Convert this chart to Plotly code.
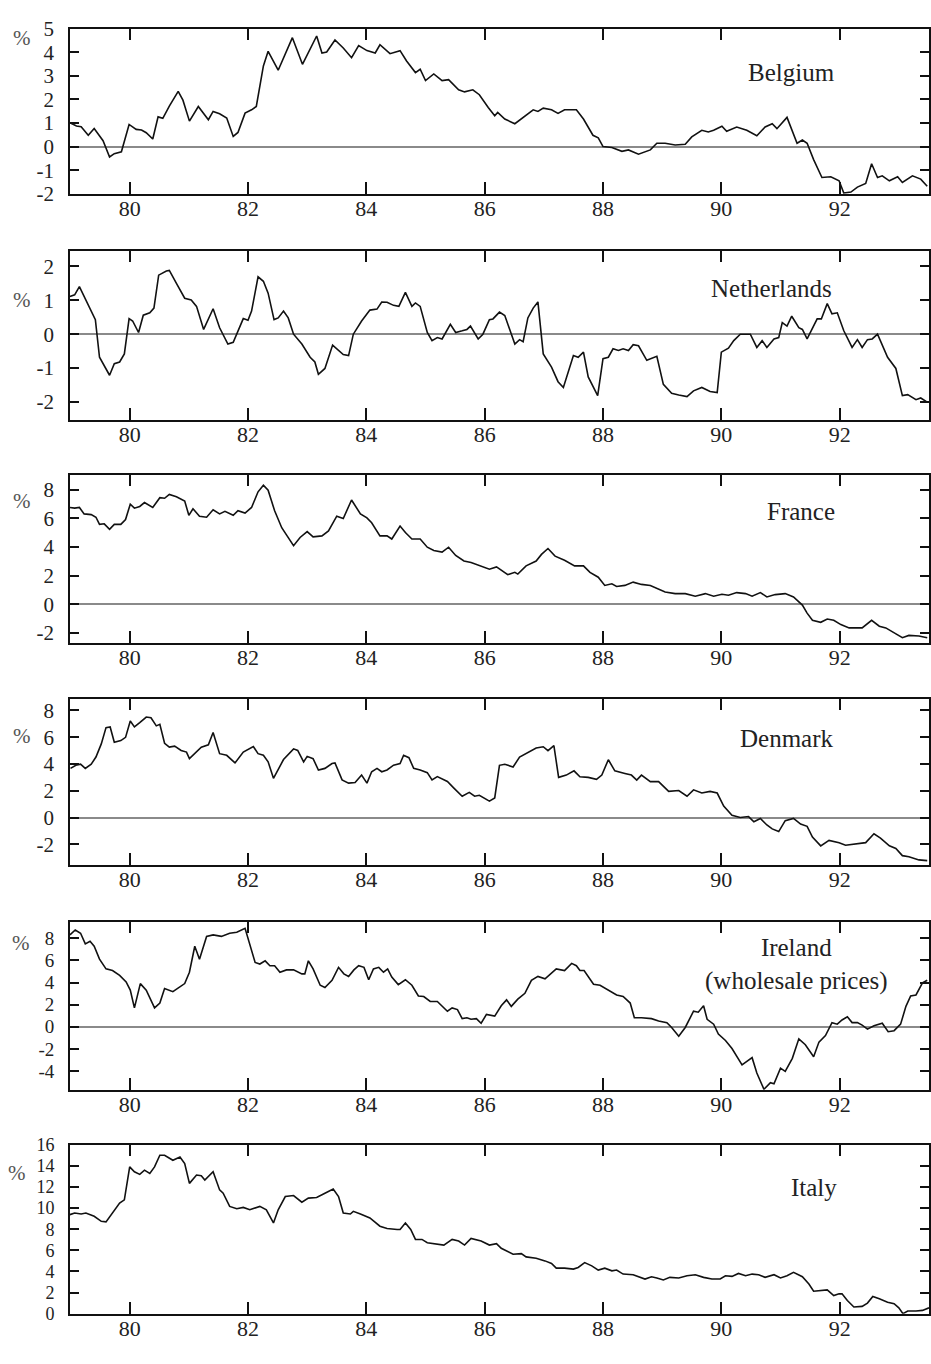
import plotly.graph_objects as go

# ---------------- data (year as 19xx decimal, value in %) ----------------
belgium_x = [79.0, 79.1, 79.18, 79.3, 79.4, 79.55, 79.66, 79.74, 79.86, 79.99, 80.11, 80.2, 80.28, 80.39, 80.48,
             80.56, 80.67, 80.82, 80.9, 81.01, 81.16, 81.33, 81.41, 81.52, 81.64, 81.75, 81.83, 81.95, 82.06,
             82.14, 82.26, 82.34, 82.51, 82.75, 82.92, 83.16, 83.25, 83.33, 83.47, 83.61, 83.75, 83.87, 84.01,
             84.15, 84.23, 84.4, 84.57, 84.68, 84.83, 84.91, 85.0, 85.14, 85.28, 85.39, 85.56, 85.66, 85.8,
             85.91, 86.06, 86.17, 86.22, 86.34, 86.51, 86.65, 86.82, 86.9, 86.99, 87.13, 87.24, 87.35, 87.55,
             87.67, 87.83, 87.92, 88.0, 88.15, 88.32, 88.43, 88.6, 88.8, 88.91, 89.05, 89.22, 89.39, 89.5,
             89.67, 89.78, 89.87, 90.01, 90.09, 90.26, 90.43, 90.6, 90.74, 90.86, 90.94, 91.11, 91.28, 91.37,
             91.45, 91.56, 91.7, 91.85, 91.99, 92.07, 92.19, 92.3, 92.44, 92.54, 92.64, 92.72, 92.84, 92.98,
             93.06, 93.23, 93.37, 93.48]
belgium_y = [1.0, 0.87, 0.84, 0.48, 0.77, 0.25, -0.44, -0.3, -0.22, 0.94, 0.73, 0.7, 0.59, 0.32, 1.26,
             1.2, 1.72, 2.34, 1.97, 1.08, 1.7, 1.14, 1.49, 1.39, 1.21, 0.43, 0.6, 1.42, 1.56,
             1.7, 3.42, 4.04, 3.24, 4.62, 3.49, 4.69, 3.97, 4.01, 4.52, 4.18, 3.77, 4.28, 4.07,
             3.97, 4.32, 3.94, 4.07, 3.63, 3.14, 3.28, 2.8, 3.08, 2.8, 2.84, 2.41, 2.32, 2.41,
             2.2, 1.66, 1.31, 1.45, 1.17, 0.97, 1.24, 1.56, 1.49, 1.63, 1.56, 1.41, 1.56, 1.56,
             1.17, 0.48, 0.37, 0.0, -0.04, -0.2, -0.14, -0.32, -0.14, 0.14, 0.14, 0.07, 0.1, 0.41,
             0.69, 0.62, 0.69, 0.86, 0.65, 0.83, 0.69, 0.46, 0.83, 0.97, 0.76, 1.24, 0.14, 0.28,
             0.14, -0.55, -1.31, -1.28, -1.45, -1.97, -1.93, -1.72, -1.56, -0.73, -1.31, -1.24, -1.45, -1.28,
             -1.52, -1.24, -1.38, -1.68]

netherlands_x = [78.99, 79.07, 79.15, 79.23, 79.32, 79.38, 79.42, 79.49, 79.66, 79.74, 79.83, 79.91, 79.99, 80.05,
                 80.15, 80.23, 80.34, 80.41, 80.49, 80.62, 80.67, 80.79, 80.93, 81.04, 81.13, 81.25, 81.41,
                 81.52, 81.66, 81.75, 81.92, 82.0, 82.06, 82.17, 82.26, 82.34, 82.44, 82.51, 82.6, 82.68,
                 82.77, 82.91, 83.05, 83.13, 83.19, 83.3, 83.43, 83.61, 83.7, 83.78, 83.92, 84.06, 84.18,
                 84.26, 84.35, 84.46, 84.55, 84.66, 84.77, 84.83, 84.91, 85.03, 85.11, 85.2, 85.28, 85.42,
                 85.51, 85.62, 85.7, 85.76, 85.89, 85.97, 86.08, 86.14, 86.25, 86.34, 86.42, 86.51, 86.59,
                 86.65, 86.73, 86.82, 86.9, 86.99, 87.13, 87.24, 87.33, 87.5, 87.58, 87.67, 87.75, 87.91,
                 88.0, 88.09, 88.17, 88.26, 88.34, 88.43, 88.51, 88.6, 88.74, 88.91, 89.02, 89.16, 89.28,
                 89.42, 89.53, 89.67, 89.81, 89.93, 90.0, 90.12, 90.21, 90.32, 90.49, 90.6, 90.69, 90.77,
                 90.89, 90.97, 91.03, 91.11, 91.19, 91.31, 91.37, 91.45, 91.62, 91.69, 91.79, 91.87, 91.96,
                 92.07, 92.21, 92.3, 92.38, 92.47, 92.55, 92.64, 92.81, 92.95, 93.06, 93.15, 93.29, 93.37,
                 93.48]
netherlands_y = [1.11, 1.16, 1.4, 1.11, 0.77, 0.53, 0.43, -0.68, -1.21, -0.87, -0.82, -0.58, 0.46, 0.39,
                 0.05, 0.56, 0.63, 0.77, 1.74, 1.86, 1.88, 1.5, 1.06, 1.01, 0.82, 0.14, 0.75,
                 0.19, -0.29, -0.24, 0.46, 0.41, 0.68, 1.69, 1.56, 1.21, 0.43, 0.48, 0.68, 0.48,
                 0.0, -0.29, -0.68, -0.82, -1.18, -1.01, -0.32, -0.6, -0.63, 0.0, 0.39, 0.71, 0.74,
                 0.95, 0.94, 0.85, 0.82, 1.23, 0.82, 0.92, 0.82, 0.05, -0.19, -0.1, -0.14, 0.29,
                 0.05, 0.1, 0.14, 0.24, -0.14, 0.0, 0.43, 0.45, 0.65, 0.55, 0.14, -0.29, -0.16,
                 -0.22, 0.48, 0.77, 0.95, -0.58, -0.97, -1.4, -1.57, -0.63, -0.68, -0.53, -1.26, -1.81,
                 -0.72, -0.68, -0.43, -0.48, -0.43, -0.48, -0.31, -0.34, -0.77, -0.65, -1.48, -1.74, -1.79,
                 -1.84, -1.67, -1.57, -1.69, -1.72, -0.53, -0.41, -0.19, 0.0, 0.0, -0.39, -0.19, -0.39,
                 -0.14, -0.1, 0.34, 0.24, 0.53, 0.19, 0.14, -0.14, 0.45, 0.45, 0.9, 0.6, 0.63,
                 0.1, -0.39, -0.16, -0.39, -0.16, -0.14, 0.0, -0.68, -1.01, -1.81, -1.78, -1.93, -1.88,
                 -2.0]

france_x = [78.99, 79.07, 79.15, 79.23, 79.35, 79.43, 79.49, 79.57, 79.66, 79.74, 79.85, 79.93, 80.01, 80.08,
            80.17, 80.25, 80.39, 80.51, 80.59, 80.67, 80.79, 80.93, 81.0, 81.07, 81.18, 81.3, 81.41, 81.52,
            81.61, 81.75, 81.83, 81.95, 82.06, 82.17, 82.26, 82.34, 82.45, 82.57, 82.65, 82.77, 82.88, 83.0,
            83.1, 83.25, 83.36, 83.5, 83.61, 83.75, 83.9, 84.01, 84.09, 84.23, 84.35, 84.43, 84.57, 84.66,
            84.77, 84.91, 85.03, 85.14, 85.28, 85.39, 85.51, 85.65, 85.77, 85.94, 86.08, 86.2, 86.39,
            86.51, 86.56, 86.7, 86.87, 86.96, 87.07, 87.19, 87.35, 87.52, 87.67, 87.78, 87.92, 88.03, 88.15,
            88.23, 88.37, 88.51, 88.65, 88.8, 88.94, 89.05, 89.22, 89.39, 89.56, 89.73, 89.87, 90.01, 90.12,
            90.26, 90.41, 90.52, 90.66, 90.77, 90.91, 91.08, 91.22, 91.37, 91.45, 91.54, 91.68, 91.79, 91.9,
            92.02, 92.16, 92.38, 92.54, 92.67, 92.78, 92.92, 93.06, 93.17, 93.34, 93.48]
france_y = [6.75, 6.7, 6.75, 6.3, 6.25, 6.07, 5.57, 5.61, 5.23, 5.57, 5.57, 5.91, 6.98, 6.7,
            6.82, 7.09, 6.75, 7.43, 7.39, 7.66, 7.5, 7.2, 6.2, 6.66, 6.14, 6.07, 6.59, 6.3,
            6.48, 6.2, 6.52, 6.36, 6.75, 7.84, 8.3, 7.95, 6.52, 5.34, 4.84, 4.09, 4.66, 5.07,
            4.7, 4.77, 5.11, 6.14, 5.98, 7.27, 6.3, 6.02, 5.68, 4.77, 4.77, 4.55, 5.45, 5.0,
            4.55, 4.55, 3.98, 3.75, 3.64, 3.98, 3.41, 3.02, 2.91, 2.68, 2.45, 2.61, 2.07,
            2.23, 2.11, 2.68, 3.02, 3.48, 3.89, 3.36, 3.07, 2.68, 2.68, 2.23, 1.89, 1.32, 1.43,
            1.25, 1.32, 1.55, 1.39, 1.32, 1.09, 0.86, 0.75, 0.75, 0.57, 0.75, 0.57, 0.7, 0.64,
            0.82, 0.75, 0.57, 0.82, 0.52, 0.68, 0.75, 0.52, -0.05, -0.61, -1.11, -1.25, -1.02, -1.11,
            -1.41, -1.64, -1.64, -1.11, -1.52, -1.64, -1.98, -2.32, -2.16, -2.2, -2.32]

denmark_x = [79.0, 79.09, 79.17, 79.25, 79.35, 79.43, 79.52, 79.6, 79.67, 79.74, 79.85, 79.93, 80.01, 80.08,
             80.17, 80.28, 80.36, 80.45, 80.51, 80.59, 80.67, 80.76, 80.87, 80.96, 81.01, 81.13, 81.21,
             81.33, 81.41, 81.52, 81.64, 81.78, 81.92, 82.09, 82.17, 82.26, 82.34, 82.43, 82.6, 82.77,
             82.84, 82.94, 83.0, 83.1, 83.19, 83.3, 83.42, 83.47, 83.59, 83.7, 83.81, 83.92, 84.01,
             84.09, 84.18, 84.26, 84.35, 84.46, 84.57, 84.63, 84.72, 84.8, 84.91, 85.03, 85.11, 85.2,
             85.37, 85.48, 85.62, 85.74, 85.83, 85.91, 86.08, 86.17, 86.25, 86.34, 86.48, 86.59, 86.73,
             86.87, 86.99, 87.07, 87.17, 87.25, 87.38, 87.51, 87.61, 87.75, 87.89, 87.98, 88.09, 88.2,
             88.37, 88.48, 88.57, 88.65, 88.8, 88.94, 89.11, 89.28, 89.42, 89.53, 89.67, 89.81, 89.93,
             90.04, 90.18, 90.32, 90.46, 90.55, 90.66, 90.77, 90.86, 90.97, 91.08, 91.22, 91.34, 91.45,
             91.54, 91.68, 91.82, 91.99, 92.1, 92.27, 92.44, 92.58, 92.69, 92.84, 92.95, 93.06, 93.17,
             93.34, 93.48]
denmark_y = [3.67, 3.91, 3.99, 3.67, 3.99, 4.52, 5.5, 6.72, 6.77, 5.62, 5.75, 5.99, 7.21, 6.77,
             7.09, 7.51, 7.46, 6.85, 6.97, 5.55, 5.26, 5.33, 5.01, 4.89, 4.4, 4.89, 5.26,
             5.43, 6.36, 4.77, 4.65, 4.08, 4.89, 5.31, 4.77, 4.65, 4.16, 2.93, 4.33, 5.13,
             5.01, 4.16, 4.57, 4.4, 3.55, 3.67, 4.03, 4.08, 2.81, 2.57, 2.62, 3.18, 2.57,
             3.42, 3.67, 3.42, 3.55, 3.91, 4.03, 4.65, 4.47, 3.67, 3.55, 3.35, 2.81, 3.06,
             2.69, 2.2, 1.59, 1.88, 1.59, 1.66, 1.22, 1.46, 3.9, 3.98, 3.78, 4.51, 4.88,
             5.2, 5.29, 5.0, 5.37, 3.0, 3.17, 3.49, 3.05, 3.0, 2.85, 3.17, 4.32, 3.49,
             3.29, 3.17, 2.8, 3.17, 2.68, 2.68, 1.95, 2.02, 1.59, 2.07, 1.83, 1.95, 1.83,
             0.85, 0.17, 0.0, 0.07, -0.32, -0.07, -0.56, -0.85, -1.05, -0.24, -0.07, -0.49, -0.66,
             -1.46, -2.12, -1.71, -1.88, -2.07, -1.95, -1.88, -1.22, -1.54, -2.12, -2.32, -2.85, -2.93,
             -3.17, -3.22]

ireland_x = [78.99, 79.08, 79.17, 79.25, 79.33, 79.4, 79.49, 79.6, 79.71, 79.83, 79.94, 80.01, 80.08, 80.18,
             80.28, 80.42, 80.51, 80.59, 80.73, 80.85, 80.93, 81.01, 81.1, 81.18, 81.3, 81.41, 81.55, 81.69,
             81.81, 81.95, 82.03, 82.12, 82.2, 82.29, 82.37, 82.45, 82.54, 82.65, 82.77, 82.91, 82.96,
             83.02, 83.1, 83.22, 83.3, 83.42, 83.53, 83.62, 83.7, 83.79, 83.87, 83.96, 84.04, 84.12, 84.21,
             84.29, 84.36, 84.43, 84.54, 84.66, 84.77, 84.88, 84.97, 85.08, 85.2, 85.28, 85.37, 85.45,
             85.54, 85.62, 85.7, 85.77, 85.86, 85.94, 86.03, 86.17, 86.28, 86.37, 86.45, 86.56, 86.68,
             86.79, 86.9, 87.02, 87.1, 87.21, 87.35, 87.47, 87.55, 87.61, 87.68, 87.84, 87.95, 88.09,
             88.23, 88.34, 88.46, 88.53, 88.65, 88.82, 88.94, 89.08, 89.16, 89.28, 89.39, 89.53, 89.61,
             89.7, 89.76, 89.87, 89.95, 90.07, 90.18, 90.35, 90.52, 90.6, 90.72, 90.83, 90.89, 91.0,
             91.08, 91.2, 91.31, 91.42, 91.56, 91.65, 91.76, 91.87, 91.96, 92.04, 92.13, 92.21, 92.3,
             92.38, 92.47, 92.58, 92.72, 92.82, 92.92, 93.03, 93.12, 93.2, 93.29, 93.4, 93.48]
ireland_y = [8.32, 8.76, 8.47, 7.5, 7.74, 7.29, 6.12, 5.24, 5.09, 4.65, 4.06, 3.32, 1.71, 3.91,
             3.32, 1.71, 2.15, 3.47, 3.18, 3.62, 3.91, 4.94, 7.29, 6.12, 8.18, 8.32, 8.18, 8.47,
             8.56, 8.91, 7.44, 5.82, 5.68, 5.97, 5.53, 5.53, 4.94, 5.15, 5.15, 4.79, 4.79,
             5.97, 5.24, 3.76, 3.56, 4.21, 5.38, 4.79, 4.56, 5.15, 5.53, 5.38, 4.26, 5.24, 5.38,
             4.94, 5.24, 4.5, 3.82, 4.26, 3.76, 2.79, 2.74, 2.29, 2.29, 1.91, 1.41, 1.71,
             1.56, 0.74, 0.82, 0.68, 0.74, 0.32, 1.12, 0.97, 1.91, 2.44, 1.85, 2.5, 3.03,
             4.21, 4.56, 4.35, 4.74, 5.24, 5.09, 5.74, 5.53, 5.09, 5.09, 3.85, 3.76, 3.32,
             2.88, 2.74, 2.15, 0.82, 0.82, 0.74, 0.53, 0.38, -0.06, -0.85, -0.06, 1.41, 1.32,
             1.91, 0.68, 0.24, -0.65, -1.24, -1.97, -3.44, -2.79, -4.18, -5.65, -5.06, -5.15, -3.74,
             -4.03, -2.85, -1.09, -1.62, -2.71, -1.38, -0.79, 0.38, 0.24, 0.62, 0.91, 0.38, 0.38,
             0.15, -0.21, 0.09, 0.32, -0.44, -0.35, 0.24, 1.85, 2.79, 2.88, 3.97, 4.21]

italy_x = [78.99, 79.07, 79.18, 79.26, 79.4, 79.52, 79.6, 79.71, 79.83, 79.91, 80.0, 80.08, 80.17, 80.25,
           80.34, 80.42, 80.51, 80.59, 80.73, 80.85, 80.93, 81.01, 81.13, 81.21, 81.27, 81.41, 81.52, 81.58,
           81.69, 81.81, 81.92, 82.03, 82.2, 82.31, 82.43, 82.51, 82.63, 82.77, 82.91, 83.02, 83.16,
           83.3, 83.44, 83.53, 83.61, 83.73, 83.78, 83.9, 84.06, 84.23, 84.35, 84.52, 84.57, 84.66,
           84.75, 84.83, 84.94, 85.03, 85.14, 85.31, 85.45, 85.56, 85.66, 85.77, 85.94, 86.08, 86.2,
           86.28, 86.48, 86.62, 86.7, 86.87, 87.02, 87.13, 87.21, 87.35, 87.5, 87.58, 87.69, 87.81,
           87.92, 88.03, 88.15, 88.23, 88.34, 88.51, 88.71, 88.82, 88.91, 89.02, 89.13, 89.28, 89.42,
           89.56, 89.7, 89.84, 89.98, 90.07, 90.18, 90.29, 90.41, 90.52, 90.63, 90.74, 90.89, 91.0,
           91.11, 91.22, 91.37, 91.48, 91.56, 91.68, 91.79, 91.9, 91.99, 92.04, 92.13, 92.24, 92.38,
           92.47, 92.56, 92.67, 92.81, 92.92, 93.0, 93.07, 93.15, 93.29, 93.4, 93.51]
italy_y = [9.38, 9.53, 9.44, 9.53, 9.22, 8.75, 8.69, 9.53, 10.47, 10.78, 13.9, 13.44, 13.19, 13.59,
           13.28, 13.9, 15.0, 15.0, 14.53, 14.84, 14.22, 12.34, 13.13, 13.06, 12.66, 13.44, 11.72, 11.41,
           10.16, 9.94, 10.06, 9.84, 10.16, 9.84, 8.59, 9.84, 11.09, 11.19, 10.56, 10.94, 11.0,
           11.41, 11.81, 11.09, 9.53, 9.44, 9.69, 9.44, 9.06, 8.28, 8.06, 7.97, 7.97, 8.59,
           7.97, 7.03, 7.03, 6.72, 6.63, 6.5, 7.03, 6.88, 6.5, 7.13, 6.88, 6.5, 6.63,
           6.19, 5.63, 5.69, 5.38, 5.25, 5.0, 4.75, 4.31, 4.31, 4.22, 4.38, 4.84, 4.53,
           4.13, 4.31, 4.06, 4.13, 3.75, 3.69, 3.28, 3.5, 3.38, 3.19, 3.44, 3.38, 3.59,
           3.69, 3.44, 3.28, 3.28, 3.59, 3.53, 3.81, 3.59, 3.75, 3.69, 3.44, 3.69, 3.38,
           3.59, 3.91, 3.5, 2.81, 2.13, 2.19, 2.25, 1.72, 1.88, 1.88, 1.25, 0.63, 0.69,
           1.0, 1.63, 1.41, 1.09, 0.94, 0.56, 0.0, 0.25, 0.25, 0.31, 0.56]

countries = ["Belgium", "Netherlands", "France", "Denmark", "Ireland<br>(wholesale prices)", "Italy"]
series_x = [belgium_x, netherlands_x, france_x, denmark_x, ireland_x, italy_x]
series_y = [belgium_y, netherlands_y, france_y, denmark_y, ireland_y, italy_y]
y_ticks = [list(range(-2, 6)), list(range(-2, 3)), list(range(-2, 9, 2)),
           list(range(-2, 9, 2)), list(range(-4, 9, 2)), list(range(0, 17, 2))]
x_ticks = [80, 82, 84, 86, 88, 90, 92]

# ---------------- layout constants (pixels) ----------------
W, H = 931, 1364
PLOT_L, PLOT_R = 70, 930
X_RANGE = [78.99, 93.51]
panel_px = [(17, 185), (243, 415), (471, 642), (699, 868), (926, 1097), (1153, 1325)]
y_ranges = [[-2, 5], [-2.52, 2.46], [-2.67, 9.03], [-3.53, 8.88], [-5.69, 9.51], [0, 16]]
ytick_size = [21, 21, 21, 21, 19, 18]
pct_pos = [(22, 26), (22, 293), (22, 498), (22, 737), (21, 948), (17, 1182)]
label_pos = [(792, 62), (772, 281), (802, 508), (788, 740), (797, 970), (815, 1197)]

SERIF = "Liberation Serif"

def py(p):
    return 1 - p / H

def px(p):
    return p / W

fig = go.Figure()
annotations = []
layout = dict(
    width=W, height=H, margin=dict(l=0, r=0, t=0, b=0),
    paper_bgcolor="white", plot_bgcolor="white", showlegend=False,
)

for i in range(6):
    n = "" if i == 0 else str(i + 1)
    fig.add_trace(go.Scatter(
        x=series_x[i], y=series_y[i], mode="lines",
        line=dict(color="#111111", width=1.6),
        xaxis="x" + n, yaxis="y" + n, hoverinfo="skip"))
    top, bot = panel_px[i]
    layout["xaxis" + n] = dict(
        domain=[px(PLOT_L), px(PLOT_R)], range=X_RANGE, anchor="y" + n,
        tickvals=x_ticks, ticktext=[str(t) for t in x_ticks],
        ticks="inside", ticklen=12, tickwidth=1.5, tickcolor="#111",
        mirror="ticks", showline=True, linecolor="#111", linewidth=1.5,
        showgrid=False, zeroline=False, ticklabelstandoff=-6,
        tickfont=dict(family=SERIF, size=22, color="#222"))
    layout["yaxis" + n] = dict(
        domain=[py(bot), py(top)], range=y_ranges[i], anchor="x" + n,
        tickvals=y_ticks[i], ticktext=[str(t) for t in y_ticks[i]],
        ticks="inside", ticklen=9, tickwidth=1.5, tickcolor="#111",
        mirror="ticks", showline=True, linecolor="#111", linewidth=1.5,
        showgrid=False, zeroline=True, zerolinecolor="#8a8a8a", zerolinewidth=1.5,
        ticklabelstandoff=10,
        tickfont=dict(family=SERIF, size=ytick_size[i], color="#222"))
    cx, cy = pct_pos[i]
    annotations.append(dict(
        text="%", x=px(cx), y=py(cy), xref="paper", yref="paper",
        xanchor="center", yanchor="middle", showarrow=False,
        font=dict(family=SERIF, size=21, color="#555")))
    lx, ly = label_pos[i]
    annotations.append(dict(
        text=countries[i], x=px(lx), y=py(ly), xref="paper", yref="paper",
        xanchor="center", yanchor="middle", showarrow=False, align="center",
        font=dict(family=SERIF, size=25, color="#222")))

layout["annotations"] = annotations
fig.update_layout(**layout)
fig.write_html("out.html")
